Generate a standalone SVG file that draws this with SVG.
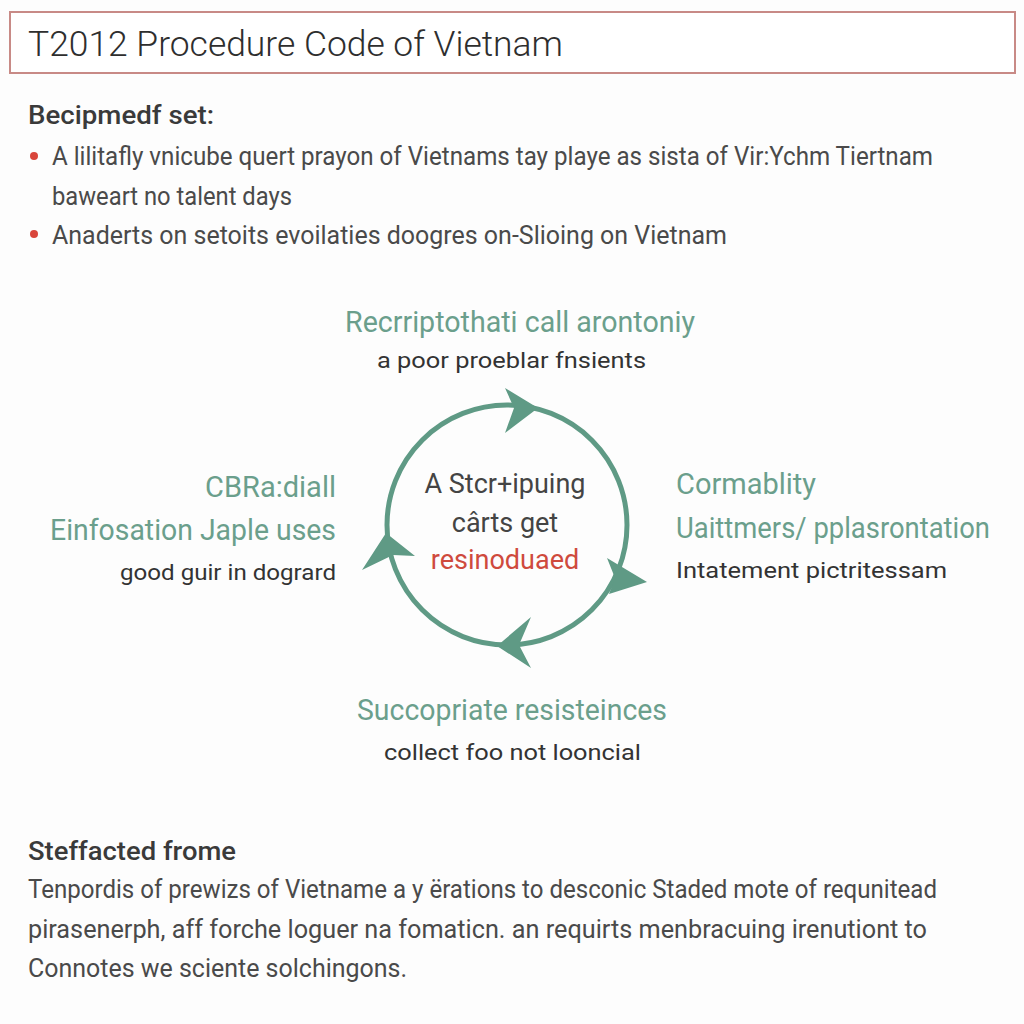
<svg xmlns="http://www.w3.org/2000/svg" width="1024" height="1024" viewBox="0 0 1024 1024">
<style>
.t{font-family:"Roboto","Liberation Sans",sans-serif}
.title{font-size:35px;font-weight:300;fill:#2e2e2e}
.h{font-size:26px;font-weight:500;fill:#3a3a3a}
.b{font-size:25px;fill:#4a4a4a}
.g{font-size:29px;fill:#6b9f8c}
.d{font-size:22px;fill:#333}
.c{font-size:27px;fill:#444}
.r{font-size:27px;fill:#cf4a3d}
.dot{fill:#d9453b}
.ring{fill:none;stroke:#5f9a85;stroke-width:5}
.ah{fill:#5f9a85}
</style>
<rect width="1024" height="1024" fill="#fdfdfd"/>
<g id="title">
<rect x="10" y="12" width="1005" height="61" fill="#fff" stroke="#c88a86" stroke-width="2"/>
<text class="t title" x="28" y="56" textLength="535" lengthAdjust="spacingAndGlyphs">T2012 Procedure Code of Vietnam</text>
</g>
<g id="intro">
<text class="t h" x="28" y="124" textLength="186" lengthAdjust="spacingAndGlyphs">Becipmedf set:</text>
<circle class="dot" cx="34" cy="156" r="4"/>
<text class="t b" x="52" y="165" textLength="881" lengthAdjust="spacingAndGlyphs">A lilitafly vnicube quert prayon of Vietnams tay playe as sista of Vir:Ychm Tiertnam</text>
<text class="t b" x="52" y="205" textLength="240" lengthAdjust="spacingAndGlyphs">baweart no talent days</text>
<circle class="dot" cx="34" cy="234" r="4"/>
<text class="t b" x="52" y="244" textLength="675" lengthAdjust="spacingAndGlyphs">Anaderts on setoits evoilaties doogres on-Slioing on Vietnam</text>
</g>
<g id="connectors">
<circle class="ring" cx="507" cy="525" r="120"/>
<polygon class="ah" points="538,408 505,388 514,408 505,433"/>
<polygon class="ah" points="647,582 607,558 615,578 609,594"/>
<polygon class="ah" points="497,646 531,617 519,645 531,668"/>
<polygon class="ah" points="386,533 415,556 393,555 362,570"/>
</g>
<g id="center">
<text class="t c" x="505" y="493" text-anchor="middle">A Stcr+ipuing</text>
<text class="t c" x="505" y="532" text-anchor="middle">cârts get</text>
<text class="t r" x="505" y="569" text-anchor="middle">resinoduaed</text>
</g>
<g id="node-top">
<text class="t g" x="345" y="332" textLength="350" lengthAdjust="spacingAndGlyphs">Recrriptothati call arontoniy</text>
<text class="t d" x="377" y="368" textLength="269" lengthAdjust="spacingAndGlyphs">a poor proeblar fnsients</text>
</g>
<g id="node-left">
<text class="t g" x="336" y="497" text-anchor="end">CBRa:diall</text>
<text class="t g" x="50" y="540" textLength="286" lengthAdjust="spacingAndGlyphs">Einfosation Japle uses</text>
<text class="t d" x="120" y="580" textLength="216" lengthAdjust="spacingAndGlyphs">good guir in dogrard</text>
</g>
<g id="node-right">
<text class="t g" x="676" y="494">Cormablity</text>
<text class="t g" x="676" y="538" textLength="314" lengthAdjust="spacingAndGlyphs">Uaittmers/ pplasrontation</text>
<text class="t d" x="676" y="578" textLength="271" lengthAdjust="spacingAndGlyphs">Intatement pictritessam</text>
</g>
<g id="node-bottom">
<text class="t g" x="357" y="720" textLength="310" lengthAdjust="spacingAndGlyphs">Succopriate resisteinces</text>
<text class="t d" x="384" y="760" textLength="257" lengthAdjust="spacingAndGlyphs">collect foo not looncial</text>
</g>
<g id="footer">
<text class="t h" x="28" y="860" textLength="208" lengthAdjust="spacingAndGlyphs">Steffacted frome</text>
<text class="t b" x="28" y="898" textLength="909" lengthAdjust="spacingAndGlyphs">Tenpordis of prewizs of Vietname a y ërations to desconic Staded mote of requnitead</text>
<text class="t b" x="28" y="938" textLength="899" lengthAdjust="spacingAndGlyphs">pirasenerph, aff forche loguer na fomaticn. an requirts menbracuing irenutiont to</text>
<text class="t b" x="28" y="977" textLength="379" lengthAdjust="spacingAndGlyphs">Connotes we sciente solchingons.</text>
</g>
</svg>
